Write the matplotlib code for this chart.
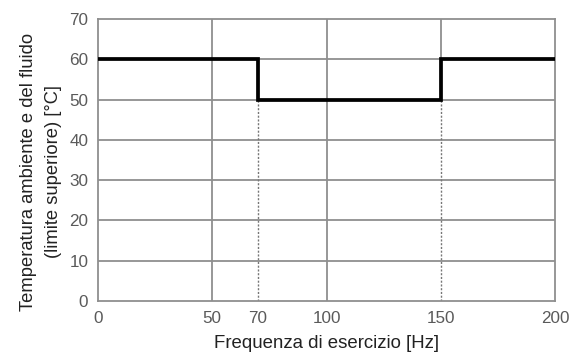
import matplotlib.pyplot as plt

plt.rcParams['font.family'] = ['Liberation Sans', 'DejaVu Sans']

# step limit: temperature upper limit vs operating frequency
freq = [0, 70, 150, 200]
temp_limit = [60, 50, 60, 60]
xticks = [0, 50, 70, 100, 150, 200]
yticks = [0, 10, 20, 30, 40, 50, 60, 70]

grid_col = '#8f8f8f'

fig = plt.figure(figsize=(5.72, 3.56), dpi=100)
ax = fig.add_axes([98 / 572, 1 - 301 / 356, 457 / 572, 282 / 356])

ax.set_xlim(0, 200)
ax.set_ylim(0, 70)

# horizontal grid
for yv in yticks[1:-1]:
    ax.axhline(yv, color=grid_col, lw=1.3, zorder=1)

# vertical grid (solid) at 50, 100, and 150 above the curve
for xv in [50, 100]:
    ax.axvline(xv, color=grid_col, lw=1.3, zorder=1)
ax.plot([150, 150], [60, 70], color=grid_col, lw=1.3, zorder=1)

# dotted guides down from the step corners
for xv in [70, 150]:
    ax.plot([xv, xv], [0, 50], color='#777777', lw=1.0, ls=(0, (1.5, 1.2)), zorder=1)

ax.plot(freq, temp_limit, drawstyle='steps-post', color='black', lw=2.7,
        zorder=3, solid_joinstyle='miter')

for s in ax.spines.values():
    s.set_color(grid_col)
    s.set_linewidth(1.3)

ax.set_xticks(xticks)
ax.set_yticks(yticks)
ax.tick_params(length=0, labelsize=12.3, colors='#5a5a5a')
ax.tick_params(axis='x', pad=7)
ax.tick_params(axis='y', pad=7)

fig.text(327 / 572, 1 - 344 / 356, 'Frequenza di esercizio [Hz]',
         ha='center', va='center', fontsize=13.4, color='#222222')
fig.text(41 / 572, 1 - 172 / 356,
         'Temperatura ambiente e del fluido\n(limite superiore) [°C]',
         ha='center', va='center', rotation=90, fontsize=13.2,
         color='#222222', linespacing=1.55)

fig.savefig('out.png', dpi=100)
